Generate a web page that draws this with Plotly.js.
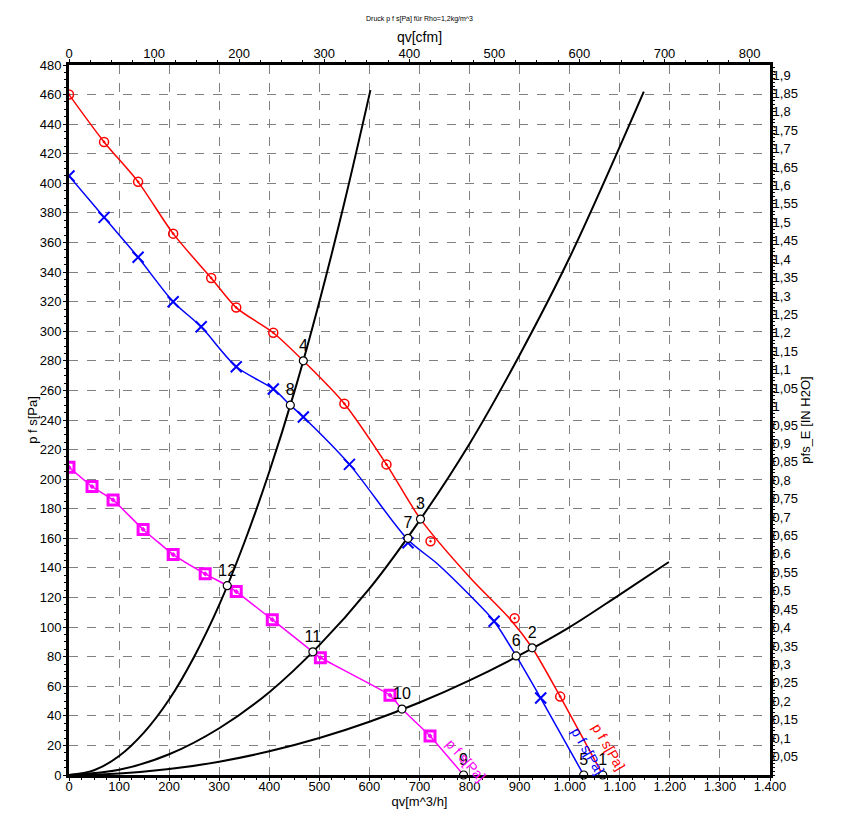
<!DOCTYPE html>
<html>
<head>
<meta charset="utf-8">
<script src="https://cdn.plot.ly/plotly-3.0.1.min.js"></script>
<style>html,body{margin:0;padding:0;background:#fff;}#chart{width:847px;height:826px;}</style>
</head>
<body>
<div id="chart"></div>
<script>
// ---- data (qv in m^3/h, p in Pa) ----
const redLineX = [0, 70, 138, 208, 284, 334, 408, 468, 550, 634, 702, 802, 882, 925, 981, 1066];
const redLineY = [460, 428, 401, 366, 336, 316, 299, 280, 251, 210, 173, 133, 105, 86, 53, 0];
const redMarkX = [0, 70, 138, 208, 284, 334, 408, 550, 634, 722, 890, 981];
const redMarkY = [460, 428, 401, 366, 336, 316, 299, 251, 210, 158, 106, 53];

const blueLineX = [0, 70, 138, 208, 264, 334, 408, 442, 468, 560, 677, 735, 802, 849, 893, 942, 1028];
const blueLineY = [405, 377, 350, 320, 303, 276, 261, 250, 242, 210, 159, 143, 121, 104, 80.5, 52, 0];
const blueMarkX = [0, 70, 138, 208, 264, 334, 408, 468, 560, 677, 849, 942];
const blueMarkY = [405, 377, 350, 320, 303, 276, 261, 242, 210, 157, 104, 52];

const magLineX = [0, 46, 88, 148, 208, 272, 316, 334, 406, 487, 502, 641, 665, 721, 788];
const magLineY = [208, 195, 186, 166, 149, 136, 128, 124, 105, 83.3, 79.3, 54, 44.6, 26.4, 0];
const magMarkX = [0, 46, 88, 148, 208, 272, 334, 406, 502, 641, 721];
const magMarkY = [208, 195, 186, 166, 149, 136, 124, 105, 79.3, 54, 26.4];

// system curves
const sysAX = [0, 50, 100, 150, 200, 250, 300, 350, 400, 450, 500, 550, 602];
const sysAY = [0, 3.2, 12.8, 28.8, 51, 80, 115, 157, 205, 259, 320, 387, 463];
const sysBX = [0, 100, 200, 300, 400, 500, 600, 700, 800, 900, 1000, 1148];
const sysBY = [0, 3.5, 14, 31.6, 56, 87.8, 126, 172, 224, 284, 350, 462];
const sysCX = [0, 100, 200, 300, 400, 500, 600, 700, 800, 900, 1000, 1100, 1198];
const sysCY = [0, 1, 4, 9, 16, 25, 36, 49, 64, 81, 100, 122, 144];

// operating points
const opX = [1066, 925, 702, 468, 1028, 893, 677, 442, 788, 665, 487, 316];
const opY = [0, 86, 173, 280, 0, 80.5, 160, 250, 0, 44.6, 83.3, 128];
const opLabels = ["1", "2", "3", "4", "5", "6", "7", "8", "9", "10", "11", "12"];

// axes
const qvMax = 1400;             // m^3/h
const cfmMax = 1400 * 0.588578; // cfm
const pMax = 480;               // Pa
const inH2OMax = 480 / 249.089; // in H2O
const bottomTickVals = [0, 100, 200, 300, 400, 500, 600, 700, 800, 900, 1000, 1100, 1200, 1300, 1400];
const bottomTickText = ["0", "100", "200", "300", "400", "500", "600", "700", "800", "900", "1.000", "1.100", "1.200", "1.300", "1.400"];
const rightTickVals = [];
const rightTickText = [];
for (let i = 1; i <= 38; i++) {
  const v = i * 0.05;
  rightTickVals.push(v);
  rightTickText.push(parseFloat(v.toFixed(2)).toString().replace('.', ','));
}

const FONT = "Liberation Sans, Arial, sans-serif";

const traces = [
  {x: sysAX, y: sysAY, mode: 'lines', line: {color: '#000', width: 2, shape: 'spline'}, hoverinfo: 'skip'},
  {x: sysBX, y: sysBY, mode: 'lines', line: {color: '#000', width: 2, shape: 'spline'}, hoverinfo: 'skip'},
  {x: sysCX, y: sysCY, mode: 'lines', line: {color: '#000', width: 2, shape: 'spline'}, hoverinfo: 'skip'},
  {x: redLineX, y: redLineY, mode: 'lines', line: {color: '#ff0000', width: 1.5, shape: 'spline', smoothing: 0.8}},
  {x: blueLineX, y: blueLineY, mode: 'lines', line: {color: '#0000ff', width: 1.5, shape: 'spline', smoothing: 0.8}},
  {x: magLineX, y: magLineY, mode: 'lines', line: {color: '#ff00ff', width: 1.5, shape: 'spline', smoothing: 0.3}},
  {x: redMarkX, y: redMarkY, mode: 'markers', marker: {symbol: 'circle-open-dot', size: 9, color: '#ff0000', line: {width: 1.5, color: '#ff0000'}}},
  {x: blueMarkX, y: blueMarkY, mode: 'markers', marker: {symbol: 'x-thin', size: 11, color: '#0000ff', line: {width: 2, color: '#0000ff'}}},
  {x: magMarkX, y: magMarkY, mode: 'markers', marker: {symbol: 'square-open-dot', size: 10, color: '#ff00ff', line: {width: 3, color: '#ff00ff'}}},
  {x: opX, y: opY, mode: 'markers+text', text: opLabels, textposition: 'top center',
   textfont: {family: FONT, size: 16, color: '#000'}, cliponaxis: false,
   marker: {symbol: 'circle', size: 8, color: '#fff', line: {width: 1.2, color: '#000'}}},
  // invisible traces to activate secondary axes
  {x: [0, cfmMax], y: [0, 0], xaxis: 'x2', yaxis: 'y', mode: 'markers', marker: {opacity: 0}, hoverinfo: 'skip'},
  {x: [0, 0], y: [0, inH2OMax], xaxis: 'x', yaxis: 'y2', mode: 'markers', marker: {opacity: 0}, hoverinfo: 'skip'}
];

const axisCommon = {
  showline: true, linecolor: '#000', linewidth: 3, ticks: 'outside', ticklen: 3, tickwidth: 1, tickcolor: '#000',
  tickfont: {family: FONT, size: 13, color: '#000'}, zeroline: false
};
const minorCommon = {ticks: 'outside', ticklen: 2, tickcolor: '#000', showgrid: false};

const layout = {
  width: 847, height: 826,
  margin: {l: 69, r: 77, t: 65, b: 51},
  paper_bgcolor: '#fff', plot_bgcolor: '#fff',
  showlegend: false,
  separators: ',.',
  font: {family: FONT, color: '#000'},
  title: {text: 'Druck p f s[Pa] für Rho=1,2kg/m^3', font: {family: FONT, size: 7, color: '#000'},
          x: 0.5, xref: 'paper', xanchor: 'center', y: 1 - 19 / 826, yref: 'container', yanchor: 'middle'},
  xaxis: Object.assign({}, axisCommon, {
    range: [0, qvMax], tickmode: 'array', tickvals: bottomTickVals, ticktext: bottomTickText,
    ticklabelstandoff: -6,
    showgrid: true, gridcolor: '#808080', griddash: 'dash', gridwidth: 1,
    minor: Object.assign({dtick: 25, tick0: 0}, minorCommon),
    title: {text: 'qv[m^3/h]', font: {family: FONT, size: 13}, standoff: 2}
  }),
  xaxis2: Object.assign({}, axisCommon, {
    overlaying: 'x', side: 'top', range: [0, cfmMax], dtick: 100, tick0: 0, showgrid: false,
    ticklabelstandoff: -4,
    minor: Object.assign({dtick: 25, tick0: 0}, minorCommon),
    title: {text: 'qv[cfm]', font: {family: FONT, size: 14}, standoff: 0}
  }),
  yaxis: Object.assign({}, axisCommon, {
    range: [0, pMax], dtick: 20, tick0: 0,
    ticklabelstandoff: -1,
    showgrid: true, gridcolor: '#808080', griddash: 'dash', gridwidth: 1,
    minor: Object.assign({dtick: 5, tick0: 0}, minorCommon),
    title: {text: 'p f s[Pa]', font: {family: FONT, size: 13}, standoff: 0}
  }),
  yaxis2: Object.assign({}, axisCommon, {
    overlaying: 'y', side: 'right', range: [0, inH2OMax], tickmode: 'array', tickvals: rightTickVals, ticktext: rightTickText,
    ticklabelstandoff: -6,
    showgrid: false,
    minor: Object.assign({dtick: 0.01, tick0: 0}, minorCommon),
    title: {text: 'pfs_E [IN H2O]', font: {family: FONT, size: 13}, standoff: 0}
  }),
  annotations: [
    {x: 1078, y: 19, xref: 'x', yref: 'y', text: 'p f s[Pa]', showarrow: false, textangle: 60,
     font: {family: FONT, size: 14, color: '#ff0000'}},
    {x: 1036, y: 16, xref: 'x', yref: 'y', text: 'p f s[Pa]', showarrow: false, textangle: 60,
     font: {family: FONT, size: 14, color: '#0000ff'}},
    {x: 792, y: 10, xref: 'x', yref: 'y', text: 'p f s[Pa]', showarrow: false, textangle: 48,
     font: {family: FONT, size: 14, color: '#ff00ff'}}
  ]
};

Plotly.newPlot('chart', traces, layout, {staticPlot: true, displayModeBar: false});
</script>
</body>
</html>
